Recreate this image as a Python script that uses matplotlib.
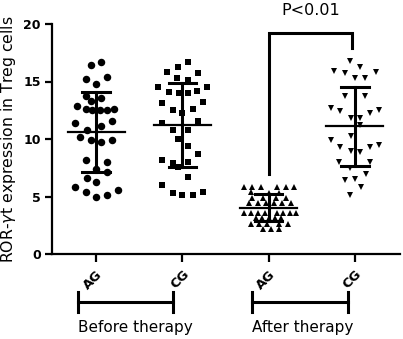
import numpy as np
import matplotlib.pyplot as plt

plt.rcParams["font.family"] = ["DejaVu Sans"]

groups = ["AG", "CG", "AG", "CG"]
conditions = ["Before therapy", "After therapy"]

# values, with the horizontal scatter of each point
ag_before = [16.4, 16.7, 15.2, 15.4, 14.8, 13.7, 13.3, 13.6, 12.9, 12.6, 12.5, 12.5, 12.5,
             12.6, 11.4, 11.6, 10.8, 11.1, 10.2, 9.9, 9.7, 9.9, 8.2, 8.0, 7.4, 7.1, 6.6,
             6.3, 5.85, 5.4, 5.0, 5.1, 5.55]
ag_before_dx = [-0.06, 0.06, -0.12, 0.12, 0.0, -0.12, -0.06, 0.06, -0.22, -0.12, -0.05, 0.04,
                0.12, 0.21, -0.24, 0.18, -0.11, 0.06, -0.19, -0.06, 0.06, 0.18, -0.12, 0.12,
                0.0, 0.12, -0.11, 0.0, -0.24, -0.12, 0.0, 0.12, 0.25]

cg_before = [16.7, 16.3, 15.8, 15.7, 15.3, 15.1, 14.5, 14.1, 14.0, 14.0, 14.2, 14.5, 13.1,
             13.2, 12.5, 12.3, 12.6, 11.4, 11.6, 10.8, 10.8, 10.0, 9.4, 8.7, 8.2, 7.9, 8.0,
             7.6, 6.7, 6.0, 5.3, 5.1, 5.1, 5.4]
cg_before_dx = [0.07, -0.05, -0.18, 0.18, -0.06, 0.06, -0.28, -0.16, -0.04, 0.06, 0.17, 0.29,
                -0.24, 0.24, -0.11, 0.0, 0.12, -0.24, 0.18, -0.11, 0.07, -0.05, 0.07, 0.18,
                -0.24, -0.11, 0.07, -0.05, 0.07, -0.24, -0.11, 0.0, 0.12, 0.24]

ag_after = [5.85, 5.85, 5.85, 5.85, 5.85, 5.85, 5.4, 5.3, 5.3, 4.9, 4.9, 4.9, 4.9,
            4.45, 4.45, 4.45, 4.45, 4.45, 4.45, 3.55, 3.55, 3.55, 3.55, 3.55, 3.55, 3.55,
            3.55, 3.1, 3.1, 3.1, 3.1, 3.1, 2.65, 2.65, 2.65, 2.65, 2.65, 2.15, 2.15, 2.15]
ag_after_dx = [-0.28, -0.19, -0.09, 0.10, 0.20, 0.29, -0.21, 0.0, 0.12, -0.19, -0.06, 0.08,
               0.20, -0.23, -0.12, -0.03, 0.06, 0.16, 0.26, -0.28, -0.20, -0.12, -0.04, 0.10,
               0.17, 0.25, 0.32, -0.15, -0.08, 0.0, 0.07, 0.14, -0.20, -0.11, -0.02, 0.12,
               0.22, -0.06, 0.03, 0.12]

cg_after = [16.8, 15.9, 15.7, 16.3, 15.8, 15.3, 15.3, 13.7, 13.7, 12.7, 12.4, 12.3, 12.5,
            11.8, 11.8, 11.2, 10.3, 9.9, 9.3, 9.0, 8.9, 9.3, 9.5, 8.0, 7.45, 8.0, 7.0, 6.4,
            6.5, 5.85, 5.1]
cg_after_dx = [-0.06, -0.24, -0.12, 0.06, 0.24, 0.0, 0.12, -0.12, 0.12, -0.28, -0.17, 0.17,
               0.28, -0.05, 0.06, 0.06, -0.05, -0.28, -0.17, -0.05, 0.06, 0.17, 0.28, -0.18,
               -0.06, 0.17, 0.13, -0.11, 0.0, 0.07, -0.06]

series = [(ag_before, ag_before_dx, "o", 5.4),
          (cg_before, cg_before_dx, "s", 4.8),
          (ag_after, ag_after_dx, "^", 5.0),
          (cg_after, cg_after_dx, "v", 5.0)]

fig = plt.figure(figsize=(4.03, 3.39), dpi=100)
ax = fig.add_axes([52 / 403, 85 / 339, 348 / 403, 230 / 339])

for i, (vals, dx, mk, ms) in enumerate(series):
    x = i + 1
    vals = np.array(vals)
    ax.plot(x + np.array(dx), vals, mk, color="black", ms=ms, mew=0, zorder=2)
    m = vals.mean()
    sd = vals.std(ddof=1)
    ax.plot([x - 0.33, x + 0.33], [m, m], color="black", lw=1.6, zorder=3)
    ax.plot([x, x], [m - sd, m + sd], color="black", lw=2.2, zorder=3)
    for y in (m - sd, m + sd):
        ax.plot([x - 0.16, x + 0.16], [y, y], color="black", lw=2.2, zorder=3)

# significance bracket
ax.plot([3, 3, 3.97, 3.97], [7.0, 19.2, 19.2, 17.9], color="black", lw=2.2,
        clip_on=False, solid_joinstyle="miter")
ax.text(3.49, 21.2, "P<0.01", ha="center", va="center", fontsize=11.5)

ax.set_xlim(0.488, 4.523)
ax.set_ylim(0, 20)
ax.set_yticks([0, 5, 10, 15, 20])
ax.set_xticks([1, 2, 3, 4])
ax.set_xticklabels(groups, rotation=45, ha="right", rotation_mode="anchor",
                   fontweight="bold", fontsize=9.5)
for lab in ax.get_yticklabels():
    lab.set_fontweight("bold")
    lab.set_fontsize(9)
ax.tick_params(axis="y", length=5, width=1.6, pad=3)
ax.tick_params(axis="x", length=6, width=1.6, pad=4)
for s in ("top", "right"):
    ax.spines[s].set_visible(False)
for s in ("left", "bottom"):
    ax.spines[s].set_linewidth(1.6)

ax.set_ylabel("ROR-$\\gamma$t expression in Treg cells", fontsize=11.3)
ax.yaxis.set_label_coords(-34 / 348, 0.5)

# group brackets under the axis
for (x0, x1), name in zip([(0.79, 1.895), (2.81, 3.92)], conditions):
    ax.plot([x0, x1], [-4.17, -4.17], color="black", lw=2.2, clip_on=False)
    ax.plot([x0, x0], [-3.3, -5.04], color="black", lw=2.2, clip_on=False)
    ax.plot([x1, x1], [-3.3, -5.04], color="black", lw=2.2, clip_on=False)
    ax.text(x0, -6.43, name, ha="left", va="center", fontsize=11)

fig.savefig("out.png", dpi=100)
